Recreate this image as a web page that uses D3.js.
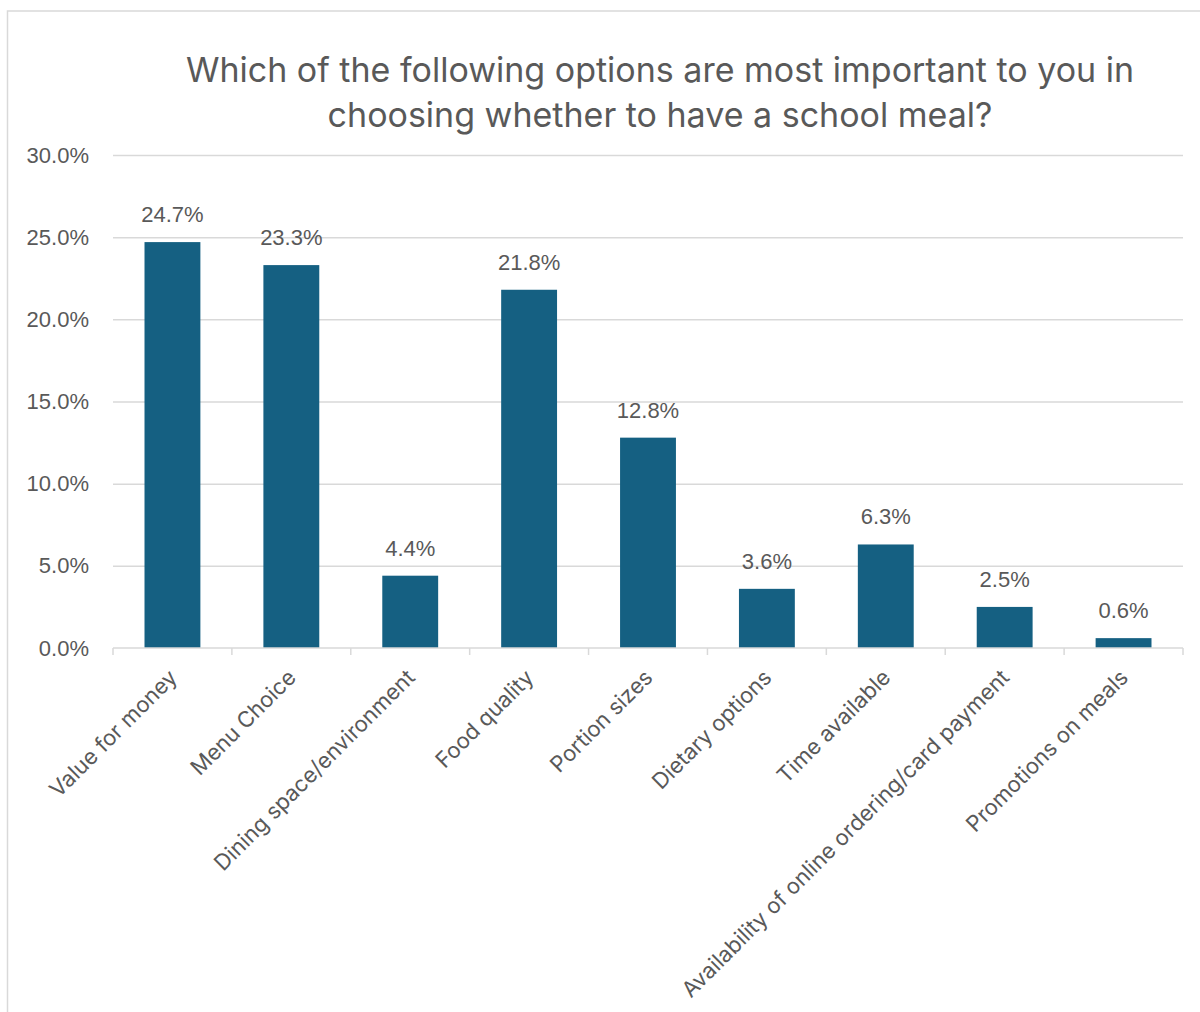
<!DOCTYPE html>
<html>
<head>
<meta charset="utf-8">
<script src="https://cdn.jsdelivr.net/npm/d3@7"></script>
<style>
  html, body { margin: 0; padding: 0; background: #fff; }
  svg { display: block; }
</style>
</head>
<body>
<svg id="chart" width="1200" height="1012"></svg>
<script>
// Survey answers: share of respondents choosing each option
const categories = [
  "Value for money",
  "Menu Choice",
  "Dining space/environment",
  "Food quality",
  "Portion sizes",
  "Dietary options",
  "Time available",
  "Availability of online ordering/card payment",
  "Promotions on meals"
];
const values = [24.7, 23.3, 4.4, 21.8, 12.8, 3.6, 6.3, 2.5, 0.6];
const yTicks = [0, 5, 10, 15, 20, 25, 30];
const titleLines = [
  "Which of the following options are most important to you in",
  "choosing whether to have a school meal?"
];

const svg = d3.select("#chart");
const W = 1200, H = 1012;
const plot = { left: 113, right: 1183, top: 155, bottom: 648 };
const textColor = "#595959";
const gridColor = "#d9d9d9";
const barColor = "#156082";
const uiFont = "Inter, 'Noto Sans', sans-serif";
const numFont = "'Liberation Sans', Arial, sans-serif";

// chart frame
svg.append("rect")
  .attr("x", 7.5).attr("y", 11)
  .attr("width", W + 20).attr("height", H + 20)
  .attr("fill", "#fff")
  .attr("stroke", gridColor).attr("stroke-width", 1.5);

// title
svg.append("g").selectAll("text")
  .data(titleLines)
  .join("text")
  .attr("x", 660)
  .attr("y", (d, i) => 82 + i * 45)
  .attr("text-anchor", "middle")
  .attr("font-family", uiFont)
  .attr("font-size", 34)
  .attr("fill", textColor)
  .text(d => d);

const x = d3.scaleBand()
  .domain(categories)
  .range([plot.left, plot.right])
  .paddingInner(0.53)
  .paddingOuter(0.265);

const y = d3.scaleLinear()
  .domain([0, 30])
  .range([plot.bottom, plot.top]);

// horizontal gridlines + value axis labels
const yAxis = d3.axisLeft(y)
  .tickValues(yTicks)
  .tickSize(-(plot.right - plot.left))
  .tickPadding(24)
  .tickFormat(d => d.toFixed(1) + "%");

const gy = svg.append("g")
  .attr("transform", `translate(${plot.left},0)`)
  .call(yAxis);
gy.select(".domain").remove();
gy.selectAll(".tick line")
  .attr("stroke", gridColor)
  .attr("stroke-width", 1.5)
  .filter(d => d === 0).remove();
gy.selectAll(".tick text")
  .attr("font-family", numFont)
  .attr("font-size", 22)
  .attr("fill", textColor);

// bars
svg.append("g").selectAll("rect")
  .data(values)
  .join("rect")
  .attr("x", (d, i) => x(categories[i]))
  .attr("y", d => y(d))
  .attr("width", x.bandwidth())
  .attr("height", d => y(0) - y(d))
  .attr("fill", barColor);

// category axis line and boundary ticks
const step = x.step();
const boundaries = d3.range(categories.length + 1).map(i => plot.left + i * step);
svg.append("line")
  .attr("x1", plot.left).attr("x2", plot.right)
  .attr("y1", y(0)).attr("y2", y(0))
  .attr("stroke", gridColor).attr("stroke-width", 1.5);
svg.append("g").selectAll("line")
  .data(boundaries)
  .join("line")
  .attr("x1", d => d).attr("x2", d => d)
  .attr("y1", y(0)).attr("y2", y(0) + 7)
  .attr("stroke", gridColor).attr("stroke-width", 1.5);

// value labels above bars
svg.append("g").selectAll("text")
  .data(values)
  .join("text")
  .attr("x", (d, i) => x(categories[i]) + x.bandwidth() / 2)
  .attr("y", d => y(d) - 20)
  .attr("text-anchor", "middle")
  .attr("font-family", numFont)
  .attr("font-size", 22)
  .attr("fill", textColor)
  .text(d => d.toFixed(1) + "%");

// rotated category labels
svg.append("g").selectAll("text")
  .data(categories)
  .join("text")
  .attr("transform", d => `translate(${x(d) + x.bandwidth() / 2 + 6},${y(0) + 31}) rotate(-45)`)
  .attr("text-anchor", "end")
  .attr("font-family", uiFont)
  .attr("font-size", 22)
  .attr("fill", textColor)
  .text(d => d);
</script>
</body>
</html>
